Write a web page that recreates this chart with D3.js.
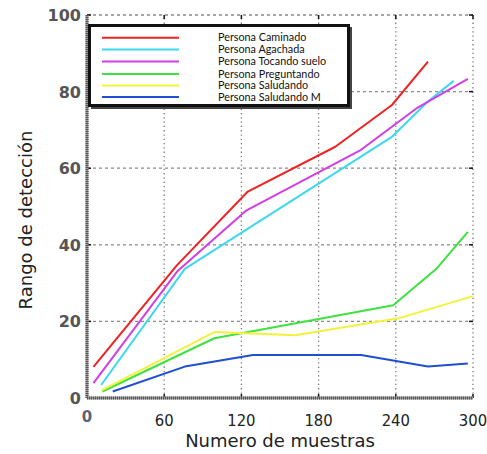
<!DOCTYPE html>
<html>
<head>
<meta charset="utf-8">
<script src="https://cdn.jsdelivr.net/npm/d3@7"></script>
<style>
  body { margin: 0; background: #fff; }
  svg { display: block; }
</style>
</head>
<body>
<div id="chart"></div>
<script>
// series names and colours
var seriesNames = ['Persona Caminado', 'Persona Agachada', 'Persona Tocando suelo',
	'Persona Preguntando', 'Persona Saludando', 'Persona Saludando M'];
var seriesColors = ['#ee2222', '#3cd8ee', '#d23ee6', '#3ee23e', '#f2f23c', '#1e4fd0'];

// values (x = muestras, y = rango)
var caminadoX = [5, 70, 125, 193, 237, 265];
var caminadoY = [8.1, 34.7, 53.9, 65.6, 76.5, 87.8];
var agachadaX = [11, 76, 237, 265, 285];
var agachadaY = [3.4, 33.7, 68.2, 77.4, 82.8];
var tocandoX = [5, 70, 124, 213, 256, 296];
var tocandoY = [3.9, 33, 49, 64.8, 75.6, 83.3];
var preguntandoX = [12, 99, 238, 272, 296];
var preguntandoY = [1.7, 15.6, 24.2, 33.9, 43.4];
var saludandoX = [11, 99, 162, 242, 300];
var saludandoY = [1.9, 17.2, 16.4, 20.8, 26.6];
var saludandoMX = [20, 76, 129, 213, 265, 296];
var saludandoMY = [1.7, 8.2, 11.2, 11.2, 8.2, 9.0];

var xTicks = [0, 60, 120, 180, 240, 300];
var yTicks = [0, 20, 40, 60, 80, 100];

var allX = [caminadoX, agachadaX, tocandoX, preguntandoX, saludandoX, saludandoMX];
var allY = [caminadoY, agachadaY, tocandoY, preguntandoY, saludandoY, saludandoMY];

var width = 487, height = 454;

var x = d3.scaleLinear().domain([0, 300]).range([87, 473]);
var y = d3.scaleLinear().domain([0, 100]).range([398, 15]);

var svg = d3.select('#chart').append('svg')
	.attr('width', width)
	.attr('height', height);

// grid: dashed horizontal, dotted vertical
svg.selectAll('.hgrid').data(yTicks.slice(1)).enter().append('line')
	.attr('x1', x(0)).attr('x2', x(300))
	.attr('y1', function(d) { return y(d); })
	.attr('y2', function(d) { return y(d); })
	.style('stroke', '#8a8a8a').style('stroke-width', 1.3)
	.style('stroke-dasharray', '3,3');

svg.selectAll('.vgrid').data(xTicks.slice(1)).enter().append('line')
	.attr('y1', y(0)).attr('y2', y(100))
	.attr('x1', function(d) { return x(d); })
	.attr('x2', function(d) { return x(d); })
	.style('stroke', '#7a7a7a').style('stroke-width', 1.3)
	.style('stroke-dasharray', '1.3,3');

// small tick marks on all four sides
xTicks.forEach(function(t) {
	svg.append('line').attr('x1', x(t)).attr('x2', x(t)).attr('y1', y(0)).attr('y2', y(0) - 4)
		.style('stroke', '#111').style('stroke-width', 1.5);
	svg.append('line').attr('x1', x(t)).attr('x2', x(t)).attr('y1', y(100)).attr('y2', y(100) + 4)
		.style('stroke', '#111').style('stroke-width', 1.5);
});
yTicks.forEach(function(t) {
	svg.append('line').attr('x1', x(0)).attr('x2', x(0) + 4).attr('y1', y(t)).attr('y2', y(t))
		.style('stroke', '#111').style('stroke-width', 1.5);
	svg.append('line').attr('x1', x(300)).attr('x2', x(300) - 4).attr('y1', y(t)).attr('y2', y(t))
		.style('stroke', '#111').style('stroke-width', 1.5);
});

// thick left and bottom axes
svg.append('line').attr('x1', x(0)).attr('x2', x(0)).attr('y1', y(100)).attr('y2', y(0))
	.style('stroke', '#999').style('stroke-width', 3);
svg.append('line').attr('x1', x(0)).attr('x2', x(0)).attr('y1', y(100)).attr('y2', y(0))
	.style('stroke', '#555').style('stroke-width', 3).style('stroke-dasharray', '1,1');
svg.append('line').attr('x1', x(0)).attr('x2', x(300)).attr('y1', y(0)).attr('y2', y(0))
	.style('stroke', '#999').style('stroke-width', 3);
svg.append('line').attr('x1', x(0)).attr('x2', x(300)).attr('y1', y(0)).attr('y2', y(0))
	.style('stroke', '#555').style('stroke-width', 3).style('stroke-dasharray', '1,1');

// tick labels
svg.selectAll('.ylab').data(yTicks).enter().append('text')
	.attr('x', x(0) - 6)
	.attr('y', function(d) { return y(d) + 6; })
	.attr('text-anchor', 'end')
	.style('font-family', 'DejaVu Sans').style('font-weight', 'bold')
	.style('font-size', '16px').style('fill', '#555')
	.text(function(d) { return d; });

svg.selectAll('.xlab').data(xTicks).enter().append('text')
	.attr('x', function(d) { return x(d); })
	.attr('y', function(d) { return d === 0 ? 422 : 426; })
	.attr('text-anchor', 'middle')
	.style('font-family', function(d) { return d === 0 ? 'DejaVu Sans' : 'DejaVu Sans Condensed'; })
	.style('font-weight', function(d) { return d === 0 ? 'bold' : 'normal'; })
	.style('font-size', function(d) { return d === 0 ? '15px' : '16.5px'; })
	.style('fill', function(d) { return d === 0 ? '#5a6478' : '#222'; })
	.text(function(d) { return d; });

// axis titles
svg.append('text')
	.attr('x', 280).attr('y', 447)
	.attr('text-anchor', 'middle')
	.style('font-family', 'DejaVu Sans').style('font-size', '18px').style('fill', '#222')
	.text('Numero de muestras');

svg.append('text')
	.attr('transform', 'translate(32,220) rotate(-90)')
	.attr('text-anchor', 'middle')
	.style('font-family', 'DejaVu Sans').style('font-size', '18px').style('fill', '#222')
	.text('Rango de detección');

// series lines
var line = d3.line()
	.x(function(d) { return x(d[0]); })
	.y(function(d) { return y(d[1]); });

seriesNames.forEach(function(name, i) {
	var pts = allX[i].map(function(v, j) { return [v, allY[i][j]]; });
	svg.append('path')
		.datum(pts)
		.attr('d', line)
		.style('fill', 'none')
		.style('stroke', seriesColors[i])
		.style('stroke-width', 2)
		.style('stroke-linejoin', 'round');
});

// legend box with a dark shadow
svg.append('rect')
	.attr('x', 91).attr('y', 27).attr('width', 261).attr('height', 82)
	.style('fill', '#444');
svg.append('rect')
	.attr('x', 89.5).attr('y', 25.5).attr('width', 259).attr('height', 80)
	.style('fill', '#fff').style('stroke', '#111').style('stroke-width', 3);

var legendY = [37.7, 49.5, 61.5, 74, 85.5, 97];
var legend = svg.selectAll('.legend')
	.data(seriesNames)
	.enter()
	.append('g')
	.attr('class', 'legend')
	.attr('transform', function(d, i) { return 'translate(0,' + legendY[i] + ')'; });

legend.append('line')
	.attr('x1', 102).attr('x2', 179)
	.style('stroke', function(d, i) { return seriesColors[i]; })
	.style('stroke-width', 2);

legend.append('text')
	.attr('x', 218).attr('y', 3.5)
	.style('font-family', 'Lato').style('font-size', '10.8px').style('fill', '#111')
	.text(function(d) { return d; });
</script>
</body>
</html>
